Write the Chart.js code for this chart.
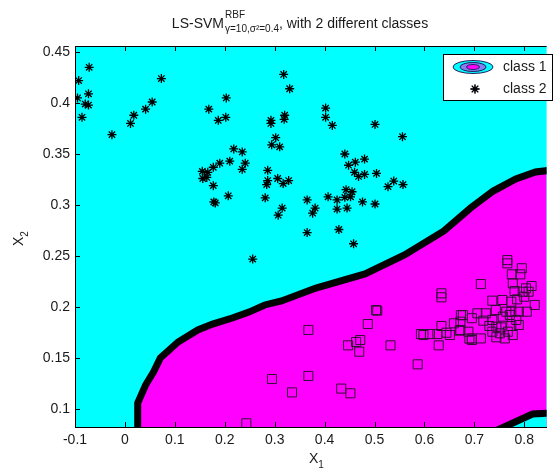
<!DOCTYPE html>
<html lang="en">
<head>
<meta charset="UTF-8">
<title>LS-SVM RBF, 2 classes</title>
<script src="https://cdn.jsdelivr.net/npm/chart.js"></script>
<style>
  body { margin: 0; background: #fff; }
  #wrap { width: 554px; height: 470px; }
</style>
</head>
<body>
<div id="wrap"><canvas id="svmChart" width="554" height="470"></canvas></div>
<script>
// class 1 samples (squares)
const class1X = [0.3675, 0.2945, 0.3675, 0.3347, 0.2432, 0.634, 0.634, 0.503, 0.5055, 0.4865,
  0.447, 0.463, 0.4714, 0.4694, 0.532, 0.5864, 0.4333, 0.4517, 0.593, 0.598,
  0.611, 0.626, 0.6286, 0.634, 0.644, 0.651, 0.659, 0.672, 0.673, 0.713,
  0.766, 0.766, 0.795, 0.775, 0.792, 0.777, 0.8146, 0.8034, 0.8087, 0.7968,
  0.7805, 0.800, 0.821, 0.7856, 0.774, 0.756, 0.736, 0.677, 0.706, 0.723,
  0.743, 0.764, 0.774, 0.789, 0.805, 0.695, 0.718, 0.736, 0.757, 0.771,
  0.784, 0.744, 0.730, 0.754, 0.774, 0.789, 0.6706, 0.688, 0.736, 0.751,
  0.767, 0.777, 0.744, 0.761, 0.695, 0.713, 0.672, 0.690, 0.695];
const class1Y = [0.1775, 0.1294, 0.1324, 0.1163, 0.086, 0.2134, 0.2095, 0.197, 0.1964, 0.1833,
  0.1624, 0.1657, 0.1676, 0.1562, 0.1624, 0.1438, 0.120, 0.1154, 0.1735, 0.1725,
  0.1735, 0.1735, 0.1624, 0.1814, 0.1748, 0.1725, 0.184, 0.1775, 0.192, 0.2225,
  0.246, 0.2428, 0.238, 0.232, 0.232, 0.2232, 0.2206, 0.2183, 0.215, 0.215,
  0.2157, 0.2101, 0.202, 0.2075, 0.2052, 0.2069, 0.2062, 0.192, 0.1938, 0.1938,
  0.197, 0.1954, 0.1954, 0.1954, 0.1954, 0.189, 0.1866, 0.1873, 0.1905, 0.1922,
  0.1873, 0.1807, 0.1814, 0.180, 0.1814, 0.1824, 0.1768, 0.1758, 0.1758, 0.1742,
  0.1758, 0.1725, 0.1703, 0.1692, 0.1692, 0.1692, 0.1856, 0.169, 0.1676];

// class 2 samples (stars)
const class2X = [-0.0716, -0.0927, -0.073, -0.095, -0.0795, -0.073, -0.086, 0.073, 0.0546, 0.0414,
  0.0178, 0.0112, -0.026, 0.318, 0.330, 0.203, 0.168, 0.187, 0.202, 0.2925,
  0.2925, 0.320, 0.319, 0.302, 0.294, 0.310, 0.218, 0.235, 0.210, 0.190,
  0.177, 0.241, 0.235, 0.155, 0.166, 0.156, 0.164, 0.177, 0.178, 0.181,
  0.207, 0.286, 0.286, 0.284, 0.306, 0.317, 0.328, 0.281, 0.315, 0.307,
  0.365, 0.381, 0.376, 0.365, 0.256, 0.402, 0.402, 0.4155, 0.501, 0.556,
  0.4405, 0.448, 0.4615, 0.480, 0.460, 0.468, 0.480, 0.504, 0.5385, 0.527,
  0.557, 0.407, 0.425, 0.443, 0.455, 0.4405, 0.452, 0.425, 0.445, 0.476,
  0.501, 0.4286, 0.458];
const class2Y = [0.435, 0.422, 0.409, 0.405, 0.399, 0.398, 0.386, 0.424, 0.401, 0.394,
  0.388, 0.380, 0.369, 0.428, 0.414, 0.405, 0.394, 0.383, 0.386, 0.383,
  0.380, 0.388, 0.384, 0.366, 0.359, 0.357, 0.355, 0.352, 0.343, 0.341,
  0.337, 0.341, 0.335, 0.333, 0.332, 0.326, 0.327, 0.319, 0.303, 0.302,
  0.309, 0.334, 0.324, 0.320, 0.326, 0.321, 0.324, 0.307, 0.297, 0.290,
  0.305, 0.297, 0.292, 0.273, 0.247, 0.395, 0.386, 0.378, 0.379, 0.367,
  0.350, 0.339, 0.342, 0.345, 0.332, 0.328, 0.330, 0.331, 0.3235, 0.318,
  0.320, 0.308, 0.305, 0.315, 0.313, 0.3075, 0.308, 0.296, 0.297, 0.303,
  0.301, 0.276, 0.262];

// decision boundary (class 1 region lies below it)
const boundaryX = [0.0256, 0.0256, 0.0414, 0.0572, 0.071, 0.1065, 0.146, 0.1755, 0.215, 0.2485,
  0.280, 0.3136, 0.3826, 0.481, 0.560, 0.639, 0.6923, 0.7377, 0.783, 0.8225, 0.856];
const boundaryY = [0.075, 0.1059, 0.1235, 0.1363, 0.150, 0.1657, 0.1775, 0.1833, 0.1892, 0.195,
  0.202, 0.2059, 0.2186, 0.2324, 0.251, 0.2745, 0.297, 0.3137, 0.3255, 0.3324, 0.3343];
// second boundary piece, bottom right corner (class 2 region below it)
const cornerX = [0.7377, 0.8166, 0.856];
const cornerY = [0.0775, 0.0951, 0.0961];

const xTicks = [-0.1, 0, 0.1, 0.2, 0.3, 0.4, 0.5, 0.6, 0.7, 0.8];
const xTickLabels = ['-0.1', '0', '0.1', '0.2', '0.3', '0.4', '0.5', '0.6', '0.7', '0.8'];
const yTicks = [0.1, 0.15, 0.2, 0.25, 0.3, 0.35, 0.4, 0.45];
const yTickLabels = ['0.1', '0.15', '0.2', '0.25', '0.3', '0.35', '0.4', '0.45'];

const FONT = '"Liberation Sans", Arial, sans-serif';
const CYAN = '#00ffff';
const MAGENTA = '#ff00ff';
const TEXT = '#1a1a1a';

const toPts = (xs, ys) => xs.map((x, i) => ({ x: x, y: ys[i] }));

// cyan plot background
const bgPlugin = {
  id: 'bg',
  beforeDraw(chart) {
    const { ctx, chartArea: a } = chart;
    ctx.save();
    ctx.fillStyle = CYAN;
    ctx.fillRect(a.left, a.top, a.right - a.left, a.bottom - a.top);
    ctx.restore();
  }
};

// frame, inward ticks, title, axis labels, legend
const decoPlugin = {
  id: 'deco',
  afterDraw(chart) {
    const { ctx, chartArea: a, scales } = chart;
    ctx.save();
    ctx.strokeStyle = '#000';
    ctx.lineWidth = 1;
    ctx.beginPath();
    ctx.moveTo(a.left, a.top + 0.5);
    ctx.lineTo(a.right, a.top + 0.5);
    xTicks.forEach(v => {
      const px = Math.round(scales.x.getPixelForValue(v)) + 0.5;
      ctx.moveTo(px, a.bottom); ctx.lineTo(px, a.bottom - 5);
      ctx.moveTo(px, a.top); ctx.lineTo(px, a.top + 5);
    });
    yTicks.forEach(v => {
      const py = Math.round(scales.y.getPixelForValue(v)) + 0.5;
      ctx.moveTo(a.left, py); ctx.lineTo(a.left + 5, py);
    });
    ctx.stroke();

    // title with super/subscript
    ctx.fillStyle = TEXT;
    ctx.textBaseline = 'alphabetic';
    ctx.textAlign = 'left';
    const main = 'LS-SVM', sup = 'RBF', sub = 'γ=10,σ²=0.4', tail = ', with 2 different classes';
    ctx.font = '14px ' + FONT;
    const w1 = ctx.measureText(main).width, w4 = ctx.measureText(tail).width;
    ctx.font = '10px ' + FONT;
    const w2 = ctx.measureText(sup).width, w3 = ctx.measureText(sub).width;
    const total = w1 + Math.max(w2, w3) + w4 + 1;
    let tx = 300 - total / 2;
    ctx.font = '14px ' + FONT;
    ctx.fillText(main, tx, 28);
    tx += w1 + 1;
    ctx.font = '10px ' + FONT;
    ctx.fillText(sup, tx, 18);
    ctx.fillText(sub, tx, 32);
    tx += Math.max(w2, w3);
    ctx.font = '14px ' + FONT;
    ctx.fillText(tail, tx, 28);

    // x label
    ctx.font = '14px ' + FONT;
    ctx.fillText('X', 309, 463);
    const wx = ctx.measureText('X').width;
    ctx.font = '10px ' + FONT;
    ctx.fillText('1', 309 + wx, 468);

    // y label
    ctx.save();
    ctx.translate(23, 246);
    ctx.rotate(-Math.PI / 2);
    ctx.font = '14px ' + FONT;
    ctx.fillText('X', 0, 0);
    ctx.font = '10px ' + FONT;
    ctx.fillText('2', wx, 5);
    ctx.restore();

    // legend
    ctx.fillStyle = '#fff';
    ctx.fillRect(443.5, 54.5, 109, 46);
    ctx.strokeStyle = '#000';
    ctx.strokeRect(443.5, 54.5, 109, 46);
    const ex = 473, ey = 67;
    [[20, 6.5, CYAN], [13, 4.5, '#8080f0'], [6.5, 2.5, MAGENTA]].forEach(([rx, ry, c]) => {
      ctx.beginPath();
      ctx.ellipse(ex, ey, rx, ry, 0, 0, Math.PI * 2);
      ctx.fillStyle = c;
      ctx.fill();
      ctx.strokeStyle = '#202060';
      ctx.lineWidth = 1;
      ctx.stroke();
    });
    Chart.helpers.drawPoint(ctx, { pointStyle: 'star', radius: 4.5, borderWidth: 1.3 }, 475, 89);
    ctx.strokeStyle = '#000';
    ctx.lineWidth = 1.3;
    ctx.stroke();
    ctx.fillStyle = TEXT;
    ctx.font = '14px ' + FONT;
    ctx.textBaseline = 'middle';
    ctx.fillText('class 1', 503, 67);
    ctx.fillText('class 2', 503, 89);
    ctx.restore();
  }
};

const ctx = document.getElementById('svmChart').getContext('2d');
new Chart(ctx, {
  type: 'scatter',
  data: {
    datasets: [
      {
        type: 'line',
        label: 'boundary',
        data: toPts(boundaryX, boundaryY),
        fill: 'start',
        backgroundColor: MAGENTA,
        borderColor: '#000',
        borderWidth: 7,
        pointRadius: 0,
        tension: 0,
        clip: 0,
        order: 4
      },
      {
        type: 'line',
        label: 'corner',
        data: toPts(cornerX, cornerY),
        fill: 'start',
        backgroundColor: CYAN,
        borderColor: '#000',
        borderWidth: 7,
        pointRadius: 0,
        tension: 0,
        clip: 0,
        order: 3
      },
      {
        label: 'class 1',
        data: toPts(class1X, class1Y),
        pointStyle: 'rect',
        pointRadius: 6.4,
        pointBorderWidth: 1,
        pointBorderColor: '#301030',
        pointBackgroundColor: 'rgba(0,0,0,0)',
        clip: 0,
        order: 1
      },
      {
        label: 'class 2',
        data: toPts(class2X, class2Y),
        pointStyle: 'star',
        pointRadius: 4.5,
        pointBorderWidth: 1.3,
        pointBorderColor: '#000',
        pointBackgroundColor: '#000',
        clip: 0,
        order: 0
      }
    ]
  },
  options: {
    responsive: false,
    animation: false,
    events: [],
    layout: { padding: { top: 46, left: 0, right: 0, bottom: 0 } },
    plugins: { legend: { display: false }, tooltip: { enabled: false } },
    scales: {
      x: {
        type: 'linear',
        min: -0.1,
        max: 0.8447,
        afterBuildTicks: s => { s.ticks = xTicks.map(v => ({ value: v })); },
        afterFit: s => { s.height = 43; },
        ticks: {
          callback: (v, i) => xTickLabels[i],
          padding: 5,
          maxRotation: 0,
          autoSkip: false,
          color: TEXT,
          font: { family: FONT, size: 14 }
        },
        grid: { display: false, drawTicks: false },
        border: { display: true, color: '#000', width: 1, z: 1 }
      },
      y: {
        type: 'linear',
        min: 0.08235,
        max: 0.4559,
        afterBuildTicks: s => { s.ticks = yTicks.map(v => ({ value: v })); },
        afterFit: s => { s.width = 75; },
        ticks: {
          callback: (v, i) => yTickLabels[i],
          padding: 5,
          autoSkip: false,
          color: TEXT,
          font: { family: FONT, size: 14 }
        },
        grid: { display: false, drawTicks: false },
        border: { display: true, color: '#000', width: 1, z: 1 }
      }
    }
  },
  plugins: [bgPlugin, decoPlugin]
});
</script>
</body>
</html>
